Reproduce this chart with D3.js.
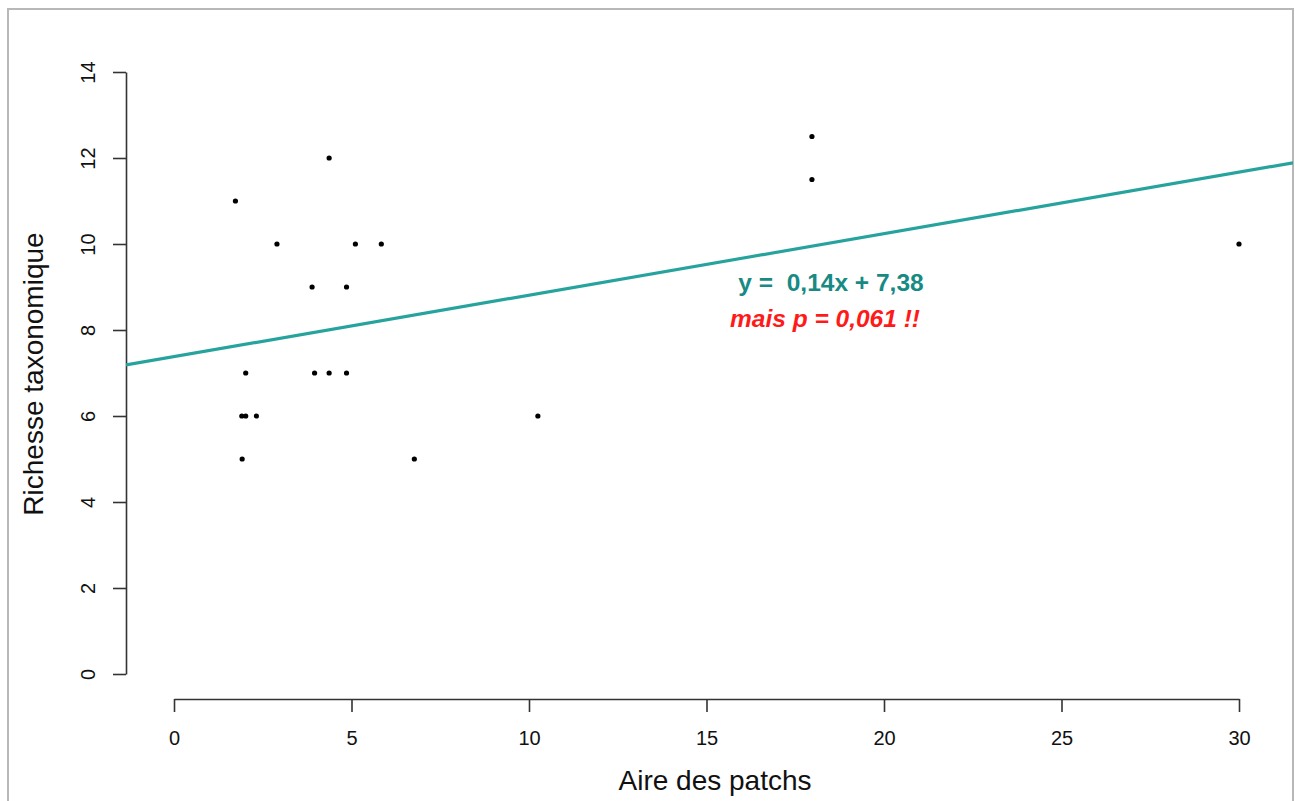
<!DOCTYPE html>
<html lang="fr">
<head>
    <meta charset="UTF-8">
    <script src="https://d3js.org/d3.v7.min.js"></script>
    <title>Richesse taxonomique vs aire des patchs</title>
    <style>
        body { margin: 0; background: #fff; }
        svg { display: block; font-family: "Liberation Sans", Arial, sans-serif; }
    </style>
</head>
<body>
    <div id="chart"></div>
    <script>
        // points
        const aire = [4.37, 1.73, 2.90, 5.11, 5.84, 3.89, 4.86, 2.02, 3.96, 4.37, 4.86,
                      1.91, 2.02, 2.32, 1.92, 6.77, 10.25, 17.97, 17.97, 30.0];
        const richesse = [12, 11, 10, 10, 10, 9, 9, 7, 7, 7, 7,
                          6, 6, 6, 5, 5, 6, 12.5, 11.5, 10];
        // fitted line y = a + b x
        const intercept = 7.38;
        const slope = 0.143;
        const xTicks = [0, 5, 10, 15, 20, 25, 30];
        const yTicks = [0, 2, 4, 6, 8, 10, 12, 14];
        const equation = "y =  0,14x + 7,38";
        const pNote = "mais p = 0,061 !!";

        const width = 1295, height = 801;
        const svg = d3.select("#chart").append("svg")
            .attr("width", width)
            .attr("height", height);

        const x = d3.scaleLinear().domain([0, 30]).range([174, 1239]);
        const y = d3.scaleLinear().domain([0, 14]).range([674, 72]);

        // outer frame
        svg.append("rect")
            .attr("x", 8).attr("y", 9)
            .attr("width", 1285).attr("height", 820)
            .attr("fill", "none")
            .attr("stroke", "#b8b8b8")
            .attr("stroke-width", 2);

        svg.append("clipPath").attr("id", "plotclip")
            .append("rect")
            .attr("x", 126).attr("y", 9)
            .attr("width", 1293 - 126).attr("height", 699 - 9);

        // x axis
        const gx = svg.append("g")
            .attr("transform", "translate(0,699)")
            .call(d3.axisBottom(x).tickValues(xTicks).tickSize(13).tickSizeOuter(0));
        gx.selectAll("text")
            .attr("y", 46).attr("dy", 0)
            .attr("font-size", "20px")
            .attr("fill", "#111");

        // y axis
        const gy = svg.append("g")
            .attr("transform", "translate(126,0)")
            .call(d3.axisLeft(y).tickValues(yTicks).tickSize(13).tickSizeOuter(0));
        gy.selectAll("text")
            .attr("x", null).attr("dy", 0)
            .attr("transform", "translate(-31,0) rotate(-90)")
            .attr("text-anchor", "middle")
            .attr("font-size", "20px")
            .attr("fill", "#111");

        svg.selectAll(".domain, .tick line")
            .attr("stroke", "#333")
            .attr("stroke-width", 1.6);

        // regression line
        const x0 = x.invert(126), x1 = x.invert(1293);
        svg.append("line")
            .attr("clip-path", "url(#plotclip)")
            .attr("x1", x(x0)).attr("y1", y(intercept + slope * x0))
            .attr("x2", x(x1)).attr("y2", y(intercept + slope * x1))
            .attr("stroke", "#27a39d")
            .attr("stroke-width", 3.2);

        // points
        svg.selectAll(".pt")
            .data(aire)
            .enter()
            .append("circle")
            .attr("class", "pt")
            .attr("cx", d => x(d))
            .attr("cy", (d, i) => y(richesse[i]))
            .attr("r", 2.6)
            .attr("fill", "#000");

        // annotations
        svg.append("text")
            .attr("x", 831).attr("y", 291)
            .attr("text-anchor", "middle")
            .attr("font-size", "24.5px")
            .attr("font-weight", "bold")
            .attr("fill", "#178a84")
            .style("white-space", "pre")
            .text(equation);

        svg.append("text")
            .attr("x", 825).attr("y", 327)
            .attr("text-anchor", "middle")
            .attr("font-size", "24.5px")
            .attr("font-weight", "bold")
            .attr("font-style", "italic")
            .attr("fill", "#ff1a1a")
            .text(pNote);

        // axis titles
        svg.append("text")
            .attr("x", 715).attr("y", 790)
            .attr("text-anchor", "middle")
            .attr("font-size", "28px")
            .attr("fill", "#111")
            .text("Aire des patchs");

        svg.append("text")
            .attr("transform", "translate(43,374) rotate(-90)")
            .attr("text-anchor", "middle")
            .attr("font-size", "28px")
            .attr("fill", "#111")
            .text("Richesse taxonomique");
    </script>
</body>
</html>
